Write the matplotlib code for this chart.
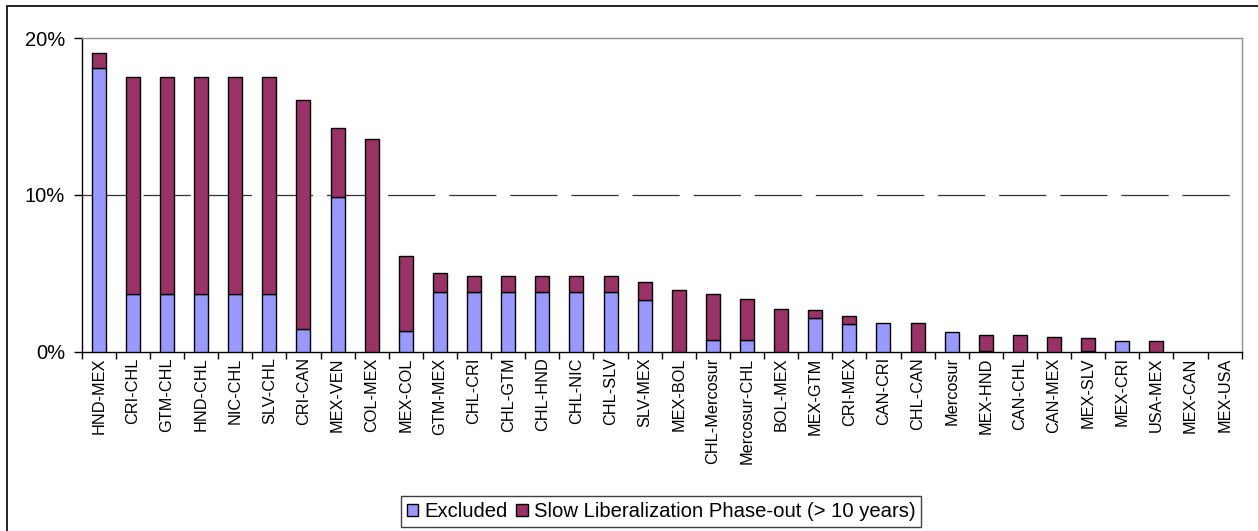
import numpy as np
import matplotlib
matplotlib.use("Agg")
import matplotlib.pyplot as plt
from matplotlib.patches import Patch, Rectangle

plt.rcParams['font.family'] = ['Liberation Sans', 'DejaVu Sans']
plt.rcParams['lines.scale_dashes'] = False

pairs = ["HND-MEX", "CRI-CHL", "GTM-CHL", "HND-CHL", "NIC-CHL", "SLV-CHL", "CRI-CAN",
         "MEX-VEN", "COL-MEX", "MEX-COL", "GTM-MEX", "CHL-CRI", "CHL-GTM", "CHL-HND",
         "CHL-NIC", "CHL-SLV", "SLV-MEX", "MEX-BOL", "CHL-Mercosur", "Mercosur-CHL",
         "BOL-MEX", "MEX-GTM", "CRI-MEX", "CAN-CRI", "CHL-CAN", "Mercosur", "MEX-HND",
         "CAN-CHL", "CAN-MEX", "MEX-SLV", "MEX-CRI", "USA-MEX", "MEX-CAN", "MEX-USA"]

# shares in percent
excluded = [18.1, 3.7, 3.7, 3.7, 3.7, 3.7, 1.45, 9.9, 0.0, 1.34, 3.81, 3.81, 3.81, 3.81,
            3.81, 3.81, 3.32, 0.0, 0.75, 0.75, 0.0, 2.17, 1.75, 1.85, 0.0, 1.28, 0.05,
            0.0, 0.0, 0.05, 0.68, 0.0, 0.0, 0.0]
total = [19.04, 17.53, 17.53, 17.53, 17.53, 17.53, 16.06, 14.26, 13.55, 6.13, 5.04, 4.83,
         4.83, 4.83, 4.83, 4.83, 4.43, 3.94, 3.66, 3.34, 2.75, 2.66, 2.30, 1.85, 1.85, 1.28,
         1.09, 1.09, 0.96, 0.87, 0.68, 0.68, 0.0, 0.0]
slow = list(np.round(np.array(total) - np.array(excluded), 2))

col_excl = "#9999FF"
col_slow = "#993366"

fig = plt.figure(figsize=(12.58, 5.31), dpi=100)
ax = fig.add_axes([81.7/1258, 179.3/531, 1160/1258, 313.4/531])

x = np.arange(len(pairs))
ex = np.array(excluded)
sl = np.array(slow)
m1 = ex > 0
m2 = sl > 0
ax.bar(x[m1], ex[m1], width=0.41, color=col_excl, edgecolor="black", linewidth=1.0, zorder=3)
ax.bar(x[m2], sl[m2], width=0.41, bottom=ex[m2], color=col_slow, edgecolor="black", linewidth=1.0, zorder=3)

ax.set_xlim(-0.5, len(pairs) - 0.5)
ax.set_ylim(0, 20)
ax.set_yticks([0, 10, 20])
ax.set_yticklabels(["0%", "10%", "20%"], fontsize=14.5)
ax.axhline(10, color="#333333", linewidth=0.9, dashes=(34, 10), zorder=1)

ax.set_xticks(x)
ax.set_xticklabels(pairs, rotation=90, fontsize=11.7)
ax.tick_params(axis="x", which="major", length=0, pad=4)
ax.set_xticks(np.arange(-0.5, len(pairs)), minor=True)
ax.tick_params(axis="x", which="minor", length=5, direction="out", width=1)
ax.tick_params(axis="y", length=6, direction="out", width=1, pad=6)

for s in ["left", "bottom"]:
    ax.spines[s].set_color("black")
    ax.spines[s].set_linewidth(1.0)
for s in ["top", "right"]:
    ax.spines[s].set_color("#909090")
    ax.spines[s].set_linewidth(1.0)

handles = [Patch(facecolor=col_excl, edgecolor="black", linewidth=1),
           Patch(facecolor=col_slow, edgecolor="black", linewidth=1)]
leg = fig.legend(handles, ["Excluded", "Slow Liberalization Phase-out (> 10 years)"],
                 loc="center", bbox_to_anchor=(661/1258, 1 - 511.5/531), ncol=2,
                 fontsize=14.6, fancybox=False, framealpha=1, edgecolor="#404040",
                 handlelength=0.55, handleheight=0.55, handletextpad=0.3,
                 columnspacing=0.45, borderpad=0.3, borderaxespad=0)
leg.get_frame().set_linewidth(1.0)

# outer chart frame
fig.patches.append(Rectangle((7/1258, -0.1), 1.2, 1 - 6/531 + 0.1, transform=fig.transFigure,
                             fill=False, edgecolor="black", linewidth=1.2))

fig.savefig("out.png", dpi=100)
